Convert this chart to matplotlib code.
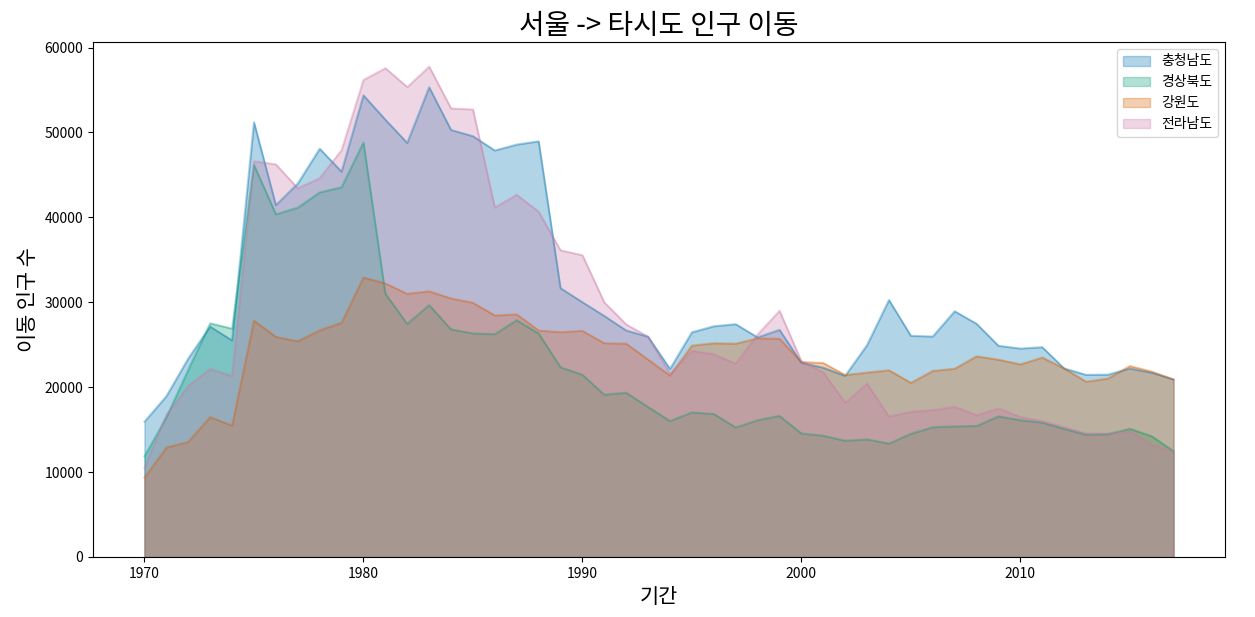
import matplotlib
matplotlib.use('Agg')
import matplotlib.pyplot as plt

plt.style.use('seaborn-v0_8-colorblind')
plt.rcParams['font.family'] = ['Noto Sans CJK KR', 'DejaVu Sans']
plt.rcParams['axes.unicode_minus'] = False

years = list(range(1970, 2018))

chungnam = [15954, 18943, 23406, 27139, 25509, 51205, 41447, 43993, 48091, 45388,
            54383, 51515, 48770, 55329, 50304, 49566, 47888, 48580, 48970, 31669,
            30015, 28393, 26680, 25951, 22164, 26474, 27183, 27431, 25870, 26765,
            22887, 22301, 21340, 24968, 30273, 26055, 25976, 28951, 27479, 24884,
            24557, 24720, 22218, 21464, 21485, 22206, 21714, 20911]
gyeongbuk = [11868, 16459, 22073, 27531, 26902, 46177, 40376, 41155, 42940, 43565,
             48834, 31021, 27455, 29681, 26814, 26334, 26252, 27899, 26329, 22350,
             21460, 19122, 19351, 17668, 16016, 17036, 16847, 15255, 16113, 16621,
             14553, 14288, 13700, 13853, 13366, 14513, 15288, 15389, 15427, 16570,
             16114, 15842, 15094, 14420, 14456, 15113, 14236, 12464]
gangwon = [9352, 12885, 13561, 16481, 15479, 27837, 25927, 25415, 26700, 27599,
           32920, 32224, 31006, 31297, 30464, 29946, 28455, 28580, 26686, 26480,
           26644, 25181, 25137, 23248, 21372, 24905, 25185, 25135, 25766, 25703,
           22975, 22855, 21441, 21731, 22001, 20519, 21923, 22180, 23640, 23246,
           22696, 23494, 22217, 20655, 21023, 22503, 21848, 20919]
jeonnam = [10513, 16755, 20157, 22160, 21314, 46610, 46251, 43430, 44624, 47934,
           56191, 57581, 55359, 57768, 52842, 52716, 41170, 42676, 40672, 36131,
           35549, 29990, 27396, 25962, 21591, 24296, 23887, 22779, 26208, 29005,
           23075, 21750, 18180, 20420, 16550, 17100, 17300, 17700, 16700, 17500,
           16500, 16000, 15300, 14560, 14560, 14820, 13200, 12440]

series = [('충청남도', chungnam), ('경상북도', gyeongbuk),
          ('강원도', gangwon), ('전라남도', jeonnam)]

fig = plt.figure(figsize=(12.55, 6.17), dpi=100)
ax = fig.add_axes([93 / 1255, 60 / 617, 1132 / 1255, 515 / 617])

for name, vals in series:
    line, = ax.plot(years, vals, alpha=0.3)
    ax.fill_between(years, 0, vals, color=line.get_color(), alpha=0.3, label=name)

ax.set_ylim(0, None)
ax.set_title('서울 -> 타시도 인구 이동', size=20)
ax.set_xlabel('기간', size=15)
ax.set_ylabel('이동 인구 수', size=15)
ax.legend(loc='upper right')

fig.savefig('out.png', dpi=100)
